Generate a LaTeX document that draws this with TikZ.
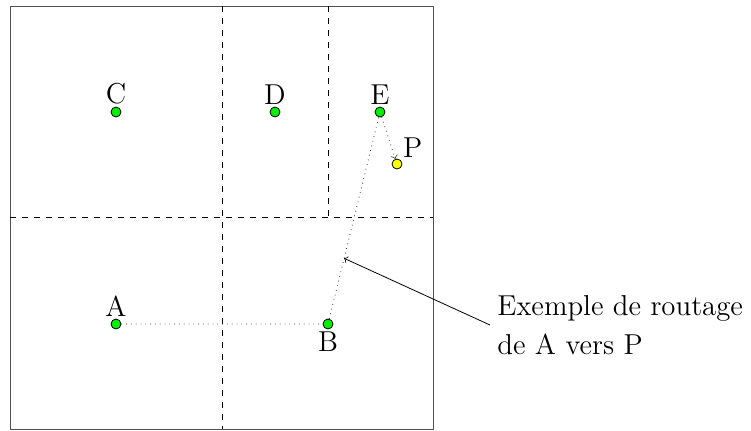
\documentclass[tikz,border=0pt]{standalone}
\usepackage{tikz}
\usetikzlibrary{positioning, calc}
\definecolor{vertNoeud}{HTML}{00F000}
\definecolor{jauneCible}{HTML}{FFFF00}
\definecolor{grisCadre}{HTML}{505050}

\begin{document}
\begin{tikzpicture}[x=0.5pt, y=-0.5pt,
        noeud/.style={circle, draw=black, fill=vertNoeud, inner sep=0pt, minimum size=5pt},
        cible/.style={circle, draw=black, fill=jauneCible, inner sep=0pt, minimum size=5pt},
        etiq/.style={inner sep=1pt, font=\fontsize{14.4}{17}\selectfont},
        zone/.style={dashed, black},
        route/.style={dotted, ->, black!80},
        note/.style={align=left, inner sep=0pt, font=\fontsize{14.4}{19.5}\selectfont}
    ]
        \useasboundingbox (0,0) rectangle (751,430);
        % cadre et decoupage
        \draw[grisCadre] (10,6) rectangle (433,429);
        \draw[zone] (222,6) -- (222,429);
        \draw[zone] (10,217) -- (433,217);
        \draw[zone] (328,6) -- (328,217);

        % noeuds
        \node[noeud, label={[etiq]above:C}] (C) at (116,112) {};
        \node[noeud, label={[etiq]above:D}] (D) at (275,112) {};
        \node[noeud, label={[etiq]above:E}] (E) at (380,112) {};
        \node[noeud, label={[etiq]above:A}] (A) at (116,324) {};
        \node[noeud, label={[etiq]below:B}] (B) at (328,324) {};
        \node[cible, label={[etiq]above right:P}] (P) at (397,164) {};

        \draw[route] (A) -- (B) -- (E) -- (P);
        \path (B) -- coordinate[pos=0.3] (relais) (E);

        \node[note, anchor=west] (legende) at (497,325) {Exemple de routage\\de A vers P};
        \coordinate (depart) at ($(legende.west)+(-7,0)$);
        \draw[->] (depart) -- (relais);
    \end{tikzpicture}
\end{document}
